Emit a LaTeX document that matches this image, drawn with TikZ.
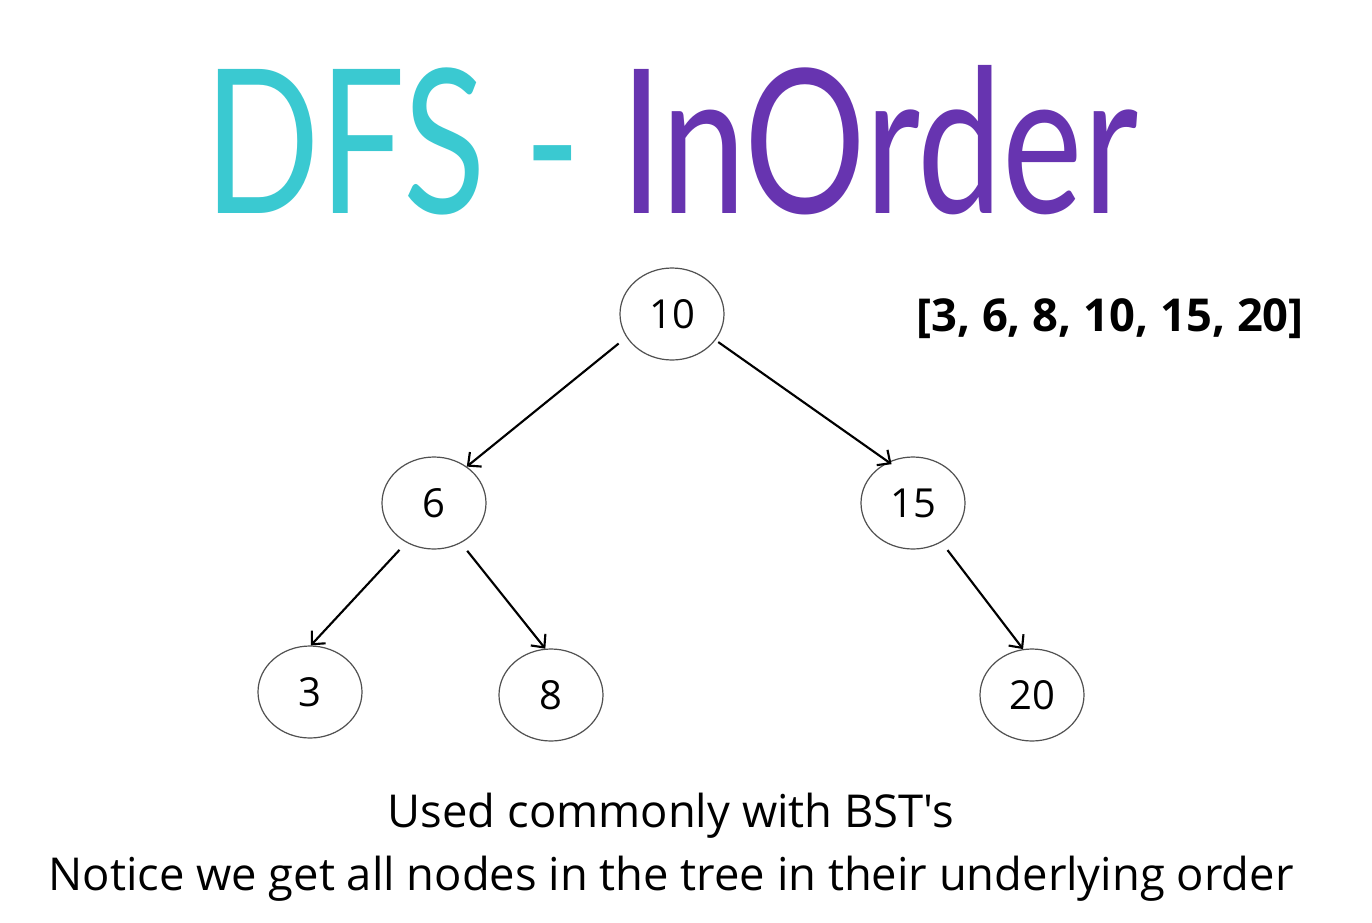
\documentclass[tikz,border=0pt]{standalone}
\usepackage{fontspec}
\newfontfamily\bodyfont{Open Sans}
\newfontfamily\boldbodyfont{Open Sans Bold}
\newfontfamily\titlefont{Lato}
\usetikzlibrary{shapes.geometric,arrows.meta}
\definecolor{dfsteal}{RGB}{58,201,209}
\definecolor{dfspurple}{RGB}{103,52,176}
\definecolor{ringgray}{RGB}{80,80,80}
\begin{document}
\begin{tikzpicture}[x=0.75pt,y=-0.75pt,
  treenode/.style={ellipse, draw=ringgray, line width=0.9pt, minimum width=78pt,
    minimum height=69pt, inner sep=0pt, font=\bodyfont\fontsize{30}{32}\selectfont},
  edge/.style={-{Straight Barb[length=7.5pt,width=14pt,line width=1.6pt]}, line width=1.6pt},
  caption/.style={anchor=base, inner sep=0pt, font=\bodyfont\fontsize{34}{38}\selectfont}]
  \useasboundingbox (0,0) rectangle (1372,922);
  \fill[white] (0,0) rectangle (1372,922);

  % title
  \node[anchor=base west, inner sep=0pt] (title) at (204,213)
    {\resizebox{700pt}{111pt}{\titlefont\textcolor{dfsteal}{DFS - }\textcolor{dfspurple}{InOrder}}};

  % tree
  \node[treenode] (n10) at (672,314) {10};
  \node[treenode] (n6)  at (434,503) {6};
  \node[treenode] (n15) at (913,503) {15};
  \node[treenode] (n3)  at (310,692) {3};
  \node[treenode] (n8)  at (551,695) {8};
  \node[treenode] (n20) at (1032,695) {20};

  \draw[edge, shorten <=7.5pt] (n10.207) -- (n6.48);
  \draw[edge, shorten <=2.5pt, shorten >=-3pt] (n10.329) -- (n15.121);
  \draw[edge, shorten <=7.5pt] (n6.235) -- (n3.89);
  \draw[edge, shorten <=7.5pt] (n6.304) -- (n8.97);
  \draw[edge, shorten <=7.5pt] (n15.306) -- (n20.101);

  % traversal result
  \node[anchor=base west, inner sep=0pt, font=\boldbodyfont\fontsize{34}{36}\selectfont]
    (result) at (916,331) {[3, 6, 8, 10, 15, 20]};

  % notes
  \node[caption] (note1) at (671,827) {Used commonly with BST's};
  \node[caption] (note2) at (671,890) {Notice we get all nodes in the tree in their underlying order};
\end{tikzpicture}
\end{document}
